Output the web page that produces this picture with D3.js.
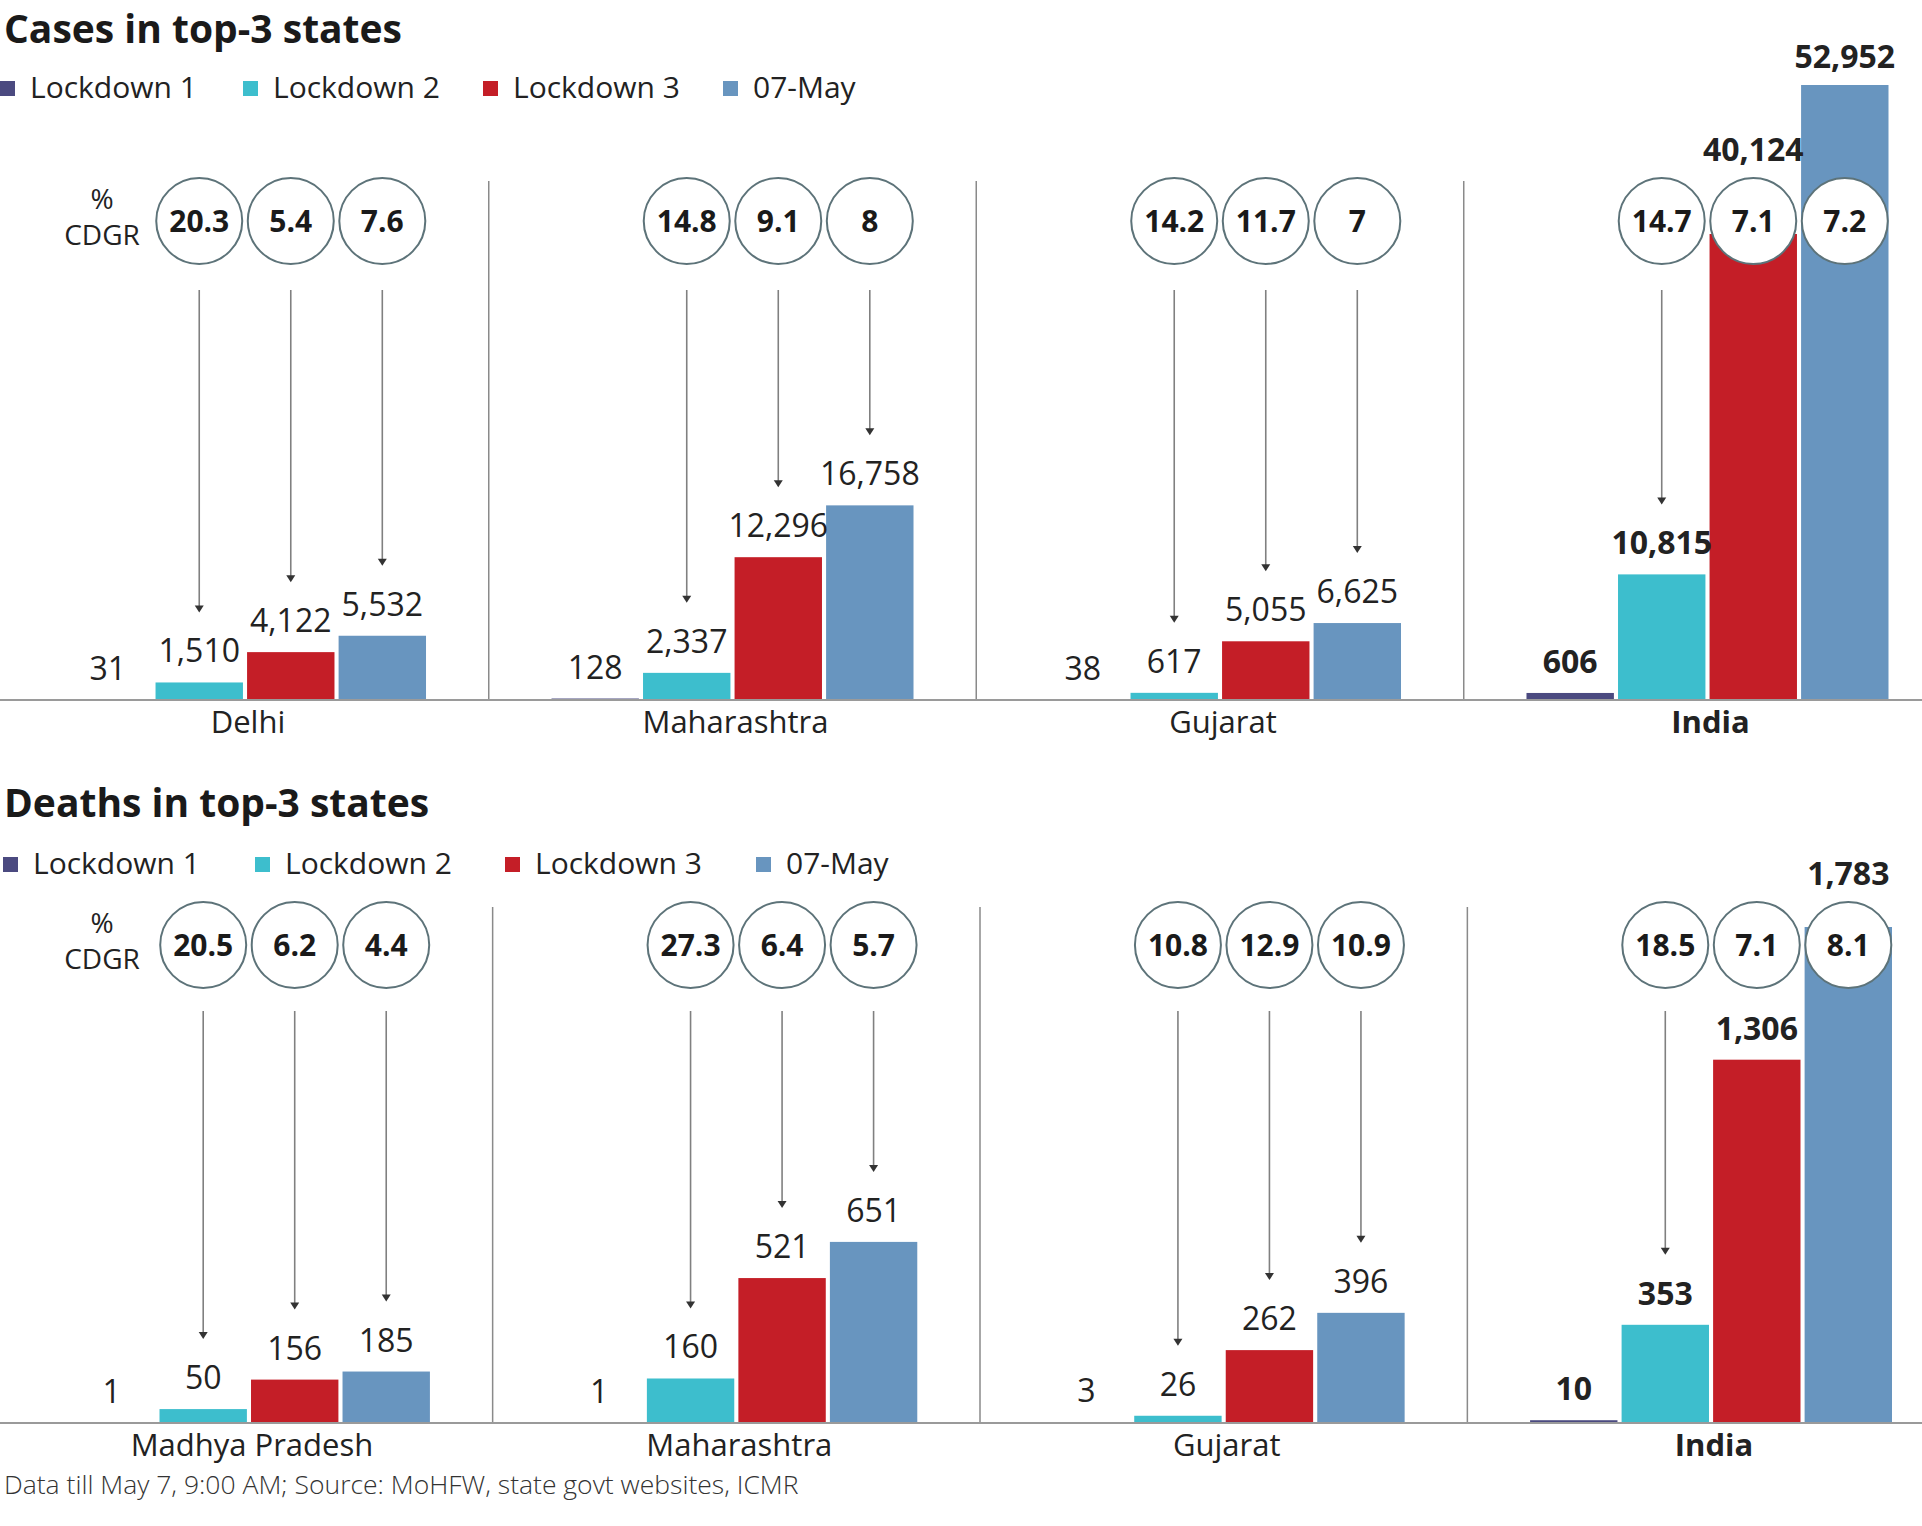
<!DOCTYPE html>
<html>
<head>
<meta charset="utf-8">
<script src="https://cdn.jsdelivr.net/npm/d3@7"></script>
<style>
  html, body { margin: 0; padding: 0; background: #fff; }
  svg { display: block; }
</style>
</head>
<body>
<svg id="chart" width="1922" height="1526"></svg>
<script>
// ---- data ----
const seriesNames = ["Lockdown 1", "Lockdown 2", "Lockdown 3", "07-May"];

const caseStates = ["Delhi", "Maharashtra", "Gujarat", "India"];
const casesLockdown1 = [31, 128, 38, 606];
const casesLockdown2 = [1510, 2337, 617, 10815];
const casesLockdown3 = [4122, 12296, 5055, 40124];
const casesMay07 = [5532, 16758, 6625, 52952];
const casesCDGR = [[20.3, 5.4, 7.6], [14.8, 9.1, 8], [14.2, 11.7, 7], [14.7, 7.1, 7.2]];

const deathStates = ["Madhya Pradesh", "Maharashtra", "Gujarat", "India"];
const deathsLockdown1 = [1, 1, 3, 10];
const deathsLockdown2 = [50, 160, 26, 353];
const deathsLockdown3 = [156, 521, 262, 1306];
const deathsMay07 = [185, 651, 396, 1783];
const deathsCDGR = [[20.5, 6.2, 4.4], [27.3, 6.4, 5.7], [10.8, 12.9, 10.9], [18.5, 7.1, 8.1]];

const footnote = "Data till May 7, 9:00 AM; Source: MoHFW, state govt websites, ICMR";

// ---- styling ----
const colors = ["#4b4a80", "#3dbecd", "#c41e27", "#6895bf"];
const FONT = "'Open Sans', 'Noto Sans', sans-serif";
const svg = d3.select("#chart");
const fmt = d3.format(",");

function drawPanel(cfg) {
  const g = svg.append("g");
  const series = [cfg.l1, cfg.l2, cfg.l3, cfg.may];
  const rows = cfg.states.map((s, i) => ({
    state: s, i,
    values: series.map((arr, k) => ({ key: seriesNames[k], k, value: arr[i] })),
    cdgr: cfg.cdgr[i]
  }));

  // title
  g.append("text")
    .attr("x", 4).attr("y", cfg.titleY)
    .attr("font-family", FONT).attr("font-weight", 700)
    .attr("font-size", 39).attr("fill", "#1a1a1a")
    .text(cfg.title);

  // legend
  const leg = g.selectAll("g.leg").data(seriesNames).join("g")
    .attr("transform", (d, k) => `translate(${cfg.legendX[k]},${cfg.legendY})`);
  leg.append("rect").attr("x", 0).attr("y", -7).attr("width", 15).attr("height", 15)
    .attr("fill", (d, k) => colors[k]);
  leg.append("text").attr("x", 30).attr("y", 10)
    .attr("font-family", FONT).attr("font-size", 30).attr("fill", "#222")
    .text(d => d);

  // scales
  const x0 = d3.scaleBand().domain(cfg.states)
    .range([cfg.x0Start, cfg.x0End]).paddingInner(0.2574).paddingOuter(0);
  const x1 = d3.scaleBand().domain(seriesNames)
    .range([0, x0.bandwidth()]).paddingInner(0.045);
  const y = d3.scaleLinear().domain([0, d3.max(cfg.may)]).range([cfg.baseline, cfg.yTop]);

  const r = 43;
  const circleTop = cfg.circleY - r, circleBottom = cfg.circleY + r;

  // separators
  const seps = cfg.states.slice(1).map(s => x0(s) - (x0.step() - x0.bandwidth()) / 2);
  g.selectAll("line.sep").data(seps).join("line")
    .attr("x1", d => d).attr("x2", d => d)
    .attr("y1", cfg.sepTop).attr("y2", cfg.baseline)
    .attr("stroke", "#8a8a8a").attr("stroke-width", 1.5);

  const grp = g.selectAll("g.grp").data(rows).join("g")
    .attr("transform", d => `translate(${x0(d.state)},0)`);

  // bars
  grp.selectAll("rect.bar").data(d => d.values).join("rect")
    .attr("x", d => x1(d.key)).attr("width", x1.bandwidth())
    .attr("y", d => y(d.value)).attr("height", d => cfg.baseline - y(d.value))
    .attr("fill", d => colors[d.k]);

  // baseline
  g.append("line").attr("x1", 0).attr("x2", 1922)
    .attr("y1", cfg.baseline).attr("y2", cfg.baseline)
    .attr("stroke", "#9a9a9a").attr("stroke-width", 2);

  // value label positions
  const labelY = d => {
    const top = y(d.value);
    if (d.k > 0 && top < circleBottom + 10) return Math.min(top, circleTop) - 17;
    return top - 20;
  };

  // arrows from circle to value label
  grp.each(function (row) {
    const gg = d3.select(this);
    row.values.slice(1).forEach(d => {
      const cx = x1(d.key) + x1.bandwidth() / 2;
      const tip = labelY(d) - 50;
      if (tip - cfg.arrowStart < 30) return;
      gg.append("line").attr("x1", cx).attr("x2", cx)
        .attr("y1", cfg.arrowStart).attr("y2", tip - 6)
        .attr("stroke", "#808080").attr("stroke-width", 1.6);
      gg.append("path")
        .attr("d", `M${cx - 4.5},${tip - 7} L${cx + 4.5},${tip - 7} L${cx},${tip} Z`)
        .attr("fill", "#333");
    });
  });

  // value labels
  grp.selectAll("text.val").data(d => d.values.map(v => ({ ...v, bold: d.state === "India" }))).join("text")
    .attr("x", d => x1(d.key) + x1.bandwidth() / 2)
    .attr("y", d => labelY(d))
    .attr("text-anchor", "middle")
    .attr("font-family", FONT).attr("font-size", 32)
    .attr("font-weight", d => d.bold ? 700 : 400)
    .attr("fill", "#222")
    .text(d => fmt(d.value));

  // CDGR circles
  const circ = grp.selectAll("g.cdgr").data(d => d.cdgr.map((c, j) => ({ c, key: seriesNames[j + 1] }))).join("g")
    .attr("transform", d => `translate(${x1(d.key) + x1.bandwidth() / 2},${cfg.circleY})`);
  circ.append("circle").attr("r", r).attr("fill", "#fff")
    .attr("stroke", "#5d7379").attr("stroke-width", 2);
  circ.append("text").attr("y", 11).attr("text-anchor", "middle")
    .attr("font-family", FONT).attr("font-weight", 700).attr("font-size", 30)
    .attr("fill", "#1a1a1a").text(d => d.c);

  // state labels
  grp.append("text")
    .attr("x", x0.bandwidth() / 2 + 3).attr("y", cfg.baseline + 33)
    .attr("text-anchor", "middle")
    .attr("font-family", FONT).attr("font-size", 31)
    .attr("font-weight", d => d.state === "India" ? 700 : 400)
    .attr("fill", "#222").text(d => d.state);

  // % CDGR caption
  const cap = g.append("text").attr("text-anchor", "middle")
    .attr("font-family", FONT).attr("font-size", 28).attr("fill", "#222");
  cap.append("tspan").attr("x", 102).attr("y", cfg.circleY - 12).text("%");
  cap.append("tspan").attr("x", 102).attr("y", cfg.circleY + 24).text("CDGR");
}

drawPanel({
  title: "Cases in top-3 states", titleY: 43,
  legendX: [0, 243, 483, 723], legendY: 88,
  states: caseStates, l1: casesLockdown1, l2: casesLockdown2, l3: casesLockdown3, may: casesMay07,
  cdgr: casesCDGR,
  x0Start: 64, x0End: 1888.5,
  baseline: 700, yTop: 85, circleY: 221, arrowStart: 290, sepTop: 181
});

drawPanel({
  title: "Deaths in top-3 states", titleY: 817,
  legendX: [3, 255, 505, 756], legendY: 864,
  states: deathStates, l1: deathsLockdown1, l2: deathsLockdown2, l3: deathsLockdown3, may: deathsMay07,
  cdgr: deathsCDGR,
  x0Start: 68, x0End: 1892,
  baseline: 1423, yTop: 927, circleY: 945, arrowStart: 1011, sepTop: 907
});

svg.append("text").attr("x", 4).attr("y", 1494)
  .attr("font-family", FONT).attr("font-size", 26.5).attr("font-weight", 300)
  .attr("fill", "#333").text(footnote);
</script>
</body>
</html>
